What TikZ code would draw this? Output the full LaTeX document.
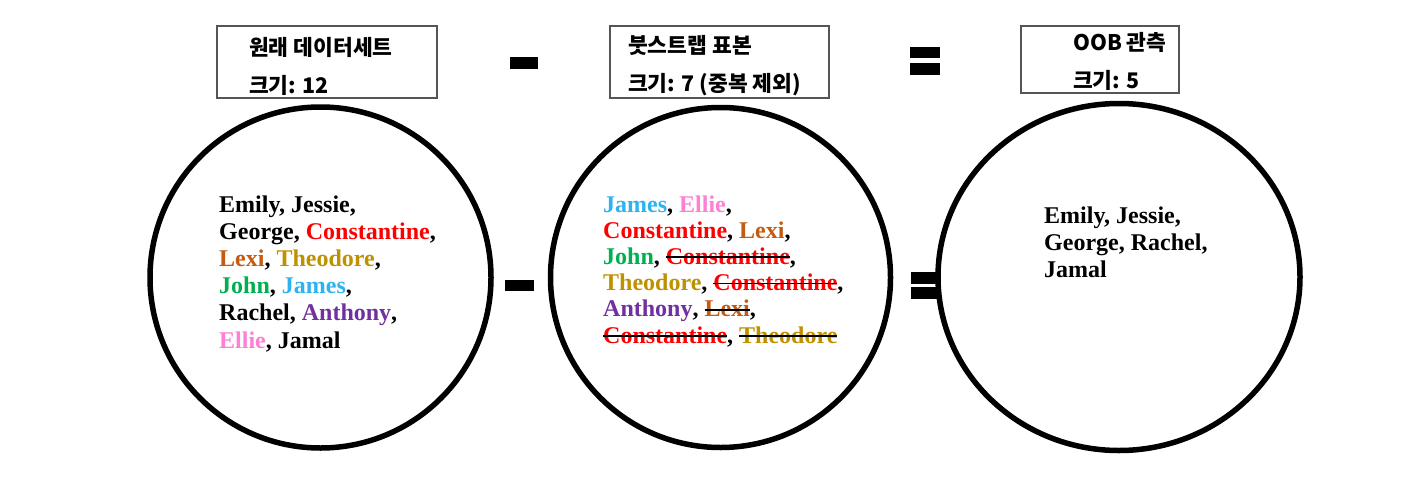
\documentclass[tikz,border=0pt]{standalone}
\usepackage{fontspec}
\setmainfont{Liberation Serif}
\newfontfamily\krfont{Noto Sans CJK KR}
\usetikzlibrary{shapes.geometric}
\definecolor{cRed}{HTML}{FF0000}
\definecolor{cLexi}{HTML}{C55A11}
\definecolor{cTheo}{HTML}{BF9000}
\definecolor{cJohn}{HTML}{00B050}
\definecolor{cJames}{HTML}{2DB3F0}
\definecolor{cAnth}{HTML}{7030A0}
\definecolor{cEllie}{HTML}{FF7FD4}
\definecolor{boxgray}{HTML}{555555}
\newsavebox\strkbox
\newcommand\strk[2]{\sbox\strkbox{\color{#1}#2}\rlap{\usebox\strkbox}{\color{black}\rule[0.26em]{\wd\strkbox}{1.8pt}}}
\tikzset{
  bigcirc/.style={draw=black, line width=5.5pt, circle, inner sep=0pt},
  lbl/.style={draw=boxgray, line width=1.2pt, rectangle, inner sep=0pt},
  krtxt/.style={anchor=base west, inner sep=0pt, font=\krfont\bfseries\fontsize{21.5}{23}\selectfont},
  nm/.style={anchor=base west, inner sep=0pt, font=\bfseries\fontsize{24}{27}\selectfont},
  opbar/.style={fill=black, draw=black, line width=0.6pt}
}
\begin{document}
\begin{tikzpicture}[x=1pt,y=-1pt]
\useasboundingbox (0,0) rectangle (1426,490);
% label boxes
\draw[lbl] (217,26) rectangle (437,98);
\draw[lbl] (610,26) rectangle (829,98);
\draw[lbl] (1021,26) rectangle (1179,93);
\node[krtxt] (t1a) at (249,55) {원래 데이터세트};
\node[krtxt] (t1b) at (249,93) {크기: 12};
\node[krtxt] (t2a) at (628,53) {붓스트랩 표본};
\node[krtxt] (t2b) at (628,91) {크기: 7 (중복 제외)};
\node[krtxt] (t3a) at (1073,50) {OOB 관측};
\node[krtxt] (t3b) at (1073,88) {크기: 5};
% operators top
\draw[opbar] (510,57) rectangle (537,68);
\draw[opbar] (910,47) rectangle (939,57);
\draw[opbar] (910,63) rectangle (939,74);
% operators middle
\draw[opbar] (505,280) rectangle (533,290);
\draw[opbar] (911,272) rectangle (939,283);
\draw[opbar] (911,287) rectangle (939,298);
% circles
\node[bigcirc, minimum size=341pt] (c1) at (320.5,277.5) {};
\node[bigcirc, minimum size=340pt] (c2) at (720.5,277.5) {};
\node[draw=black, line width=5.5pt, ellipse, inner sep=0pt, minimum width=362pt, minimum height=347pt] (c3) at (1119,277) {};
% left text
\node[nm] (l1) at (219,212) {Emily, Jessie,};
\node[nm] (l2) at (219,239.2) {George, \textcolor{cRed}{Constantine},};
\node[nm] (l3) at (219,266.4) {\textcolor{cLexi}{Lexi}, \textcolor{cTheo}{Theodore},};
\node[nm] (l4) at (219,293.6) {\textcolor{cJohn}{John}, \textcolor{cJames}{James},};
\node[nm] (l5) at (219,320.8) {Rachel, \textcolor{cAnth}{Anthony},};
\node[nm] (l6) at (219,348) {\textcolor{cEllie}{Ellie}, Jamal};
% middle text
\node[nm] (m1) at (603,212) {\textcolor{cJames}{James}, \textcolor{cEllie}{Ellie},};
\node[nm] (m2) at (603,238.2) {\textcolor{cRed}{Constantine}, \textcolor{cLexi}{Lexi},};
\node[nm] (m3) at (603,264.4) {\textcolor{cJohn}{John}, \strk{cRed}{Constantine},};
\node[nm] (m4) at (603,290.6) {\textcolor{cTheo}{Theodore}, \strk{cRed}{Constantine},};
\node[nm] (m5) at (603,316.8) {\textcolor{cAnth}{Anthony}, \strk{cLexi}{Lexi},};
\node[nm] (m6) at (603,343) {\strk{cRed}{Constantine}, \strk{cTheo}{Theodore}};
% right text
\node[nm] (r1) at (1044,223) {Emily, Jessie,};
\node[nm] (r2) at (1044,250) {George, Rachel,};
\node[nm] (r3) at (1044,277) {Jamal};
\end{tikzpicture}
\end{document}
